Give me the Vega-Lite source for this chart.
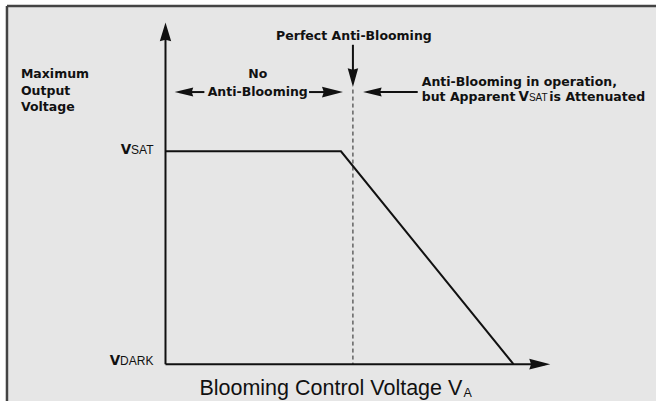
{
  "$schema": "https://vega.github.io/schema/vega-lite/v6.json",
  "width": 658,
  "height": 403,
  "autosize": {"type": "fit", "contains": "padding"},
  "padding": 0,
  "background": "white",
  "config": {"view": {"stroke": null}},
  "datasets": {
    "panel": [{"x": -4.077, "x2": 12.6154, "y": -0.1729, "y2": 1.6822}],
    "frame": [
      {"x": -4.077, "x2": -4.077, "y": -0.1729, "y2": 1.6822},
      {"x": -4.077, "x2": 12.6154, "y": 1.6822, "y2": 1.6822}
    ],
    "shafts": [
      {"name": "y-axis", "x": 0, "x2": 0, "y": 0, "y2": 1.549},
      {"name": "x-axis", "x": 0, "x2": 9.756, "y": 0, "y2": 0},
      {"name": "perfect", "x": 4.8205, "x2": 4.8205, "y": 1.5, "y2": 1.3575},
      {"name": "no-left", "x": 0.346, "x2": 1.0, "y": 1.278, "y2": 1.278},
      {"name": "no-right", "x": 3.692, "x2": 4.423, "y": 1.278, "y2": 1.278},
      {"name": "op-left", "x": 5.192, "x2": 6.487, "y": 1.278, "y2": 1.278}
    ],
    "heads": [
      {"dir": "up", "x": 0, "y": 1.5607},
      {"dir": "right", "x": 9.6256, "y": 0},
      {"dir": "down", "x": 4.8205, "y": 1.3458},
      {"dir": "left", "x": 0.4744, "y": 1.278},
      {"dir": "right", "x": 4.2949, "y": 1.278},
      {"dir": "left", "x": 5.3205, "y": 1.278}
    ],
    "curve": [
      {"x": 0, "y": 1, "o": 1},
      {"x": 4.513, "y": 1, "o": 2},
      {"x": 8.949, "y": 0, "o": 3}
    ],
    "dashed": [{"x": 4.8205, "y": 1.2897, "y2": 0}],
    "boldLeft": [
      {"t": "Maximum", "x": -3.718, "y": 1.3444},
      {"t": "Output", "x": -3.718, "y": 1.2631},
      {"t": "Voltage", "x": -3.718, "y": 1.1869},
      {"t": "Anti-Blooming in operation,", "x": 6.59, "y": 1.3051},
      {"t": "but Apparent", "x": 6.59, "y": 1.235},
      {"t": "is Attenuated", "x": 9.872, "y": 1.235}
    ],
    "boldCenter": [
      {"t": "No", "x": 2.372, "y": 1.3458},
      {"t": "Anti-Blooming", "x": 2.372, "y": 1.2593},
      {"t": "Perfect Anti-Blooming", "x": 4.846, "y": 1.5234}
    ],
    "vLetters": [
      {"t": "V", "x": 9.346, "y": 1.235},
      {"t": "V", "x": -0.885, "y": 0.986},
      {"t": "V", "x": -1.167, "y": -0.0033}
    ],
    "subs": [
      {"t": "SAT", "x": -0.885, "y": 0.986},
      {"t": "DARK", "x": -1.167, "y": -0.0033}
    ],
    "inlineSub": [{"t": "SAT", "x": 9.346, "y": 1.235}],
    "title": [{"t": "Blooming Control Voltage V", "x": 0.872, "y": -0.1449}],
    "titleSub": [{"t": "A", "x": 7.667, "y": -0.1519}]
  },
  "encoding": {
    "x": {"field": "x", "type": "quantitative", "scale": {"domain": [-4.2564, 12.6154], "nice": false, "zero": false}, "axis": null},
    "y": {"field": "y", "type": "quantitative", "scale": {"domain": [-0.1729, 1.7103], "nice": false, "zero": false}, "axis": null}
  },
  "layer": [
    {
      "data": {"name": "panel"},
      "mark": {"type": "rect", "fill": "#e6e6e6"},
      "encoding": {"x2": {"field": "x2"}, "y2": {"field": "y2"}}
    },
    {
      "data": {"name": "frame"},
      "mark": {"type": "rule", "stroke": "#444", "strokeWidth": 2.5},
      "encoding": {"x2": {"field": "x2"}, "y2": {"field": "y2"}}
    },
    {
      "data": {"name": "dashed"},
      "mark": {"type": "rule", "stroke": "#222", "strokeWidth": 1, "strokeDash": [4, 3]},
      "encoding": {"y2": {"field": "y2"}}
    },
    {
      "data": {"name": "shafts"},
      "mark": {"type": "rule", "stroke": "#111", "strokeWidth": 2},
      "encoding": {"x2": {"field": "x2"}, "y2": {"field": "y2"}}
    },
    {
      "data": {"name": "curve"},
      "mark": {"type": "line", "stroke": "#111", "strokeWidth": 2},
      "encoding": {"order": {"field": "o", "type": "quantitative"}}
    },
    {
      "data": {"name": "heads"},
      "mark": {"type": "point", "filled": true, "color": "#111", "opacity": 1, "size": 900, "strokeWidth": 0},
      "encoding": {
        "shape": {
          "field": "dir",
          "type": "nominal",
          "legend": null,
          "scale": {
            "domain": ["up", "down", "left", "right"],
            "range": [
              "M0,-0.62L0.38,0.62L0,0.52L-0.38,0.62Z",
              "M0,0.62L0.35,-0.62L0,-0.52L-0.35,-0.62Z",
              "M-0.62,0L0.62,0.3L0.52,0L0.62,-0.3Z",
              "M0.7,0L-0.7,0.36L-0.58,0L-0.7,-0.36Z"
            ]
          }
        }
      }
    },
    {
      "data": {"name": "boldLeft"},
      "mark": {"type": "text", "font": "DejaVu Sans", "fontWeight": "bold", "fontSize": 12.5, "align": "left", "baseline": "alphabetic", "color": "#111"},
      "encoding": {"text": {"field": "t"}}
    },
    {
      "data": {"name": "boldCenter"},
      "mark": {"type": "text", "font": "DejaVu Sans", "fontWeight": "bold", "fontSize": 12.5, "align": "center", "baseline": "alphabetic", "color": "#111"},
      "encoding": {"text": {"field": "t"}}
    },
    {
      "data": {"name": "vLetters"},
      "mark": {"type": "text", "font": "DejaVu Sans", "fontWeight": "bold", "fontSize": 13.5, "align": "right", "baseline": "alphabetic", "color": "#111"},
      "encoding": {"text": {"field": "t"}}
    },
    {
      "data": {"name": "subs"},
      "mark": {"type": "text", "font": "Liberation Sans", "fontSize": 12, "align": "left", "baseline": "alphabetic", "color": "#111"},
      "encoding": {"text": {"field": "t"}}
    },
    {
      "data": {"name": "inlineSub"},
      "mark": {"type": "text", "font": "Liberation Sans", "fontSize": 10, "align": "left", "baseline": "alphabetic", "color": "#111"},
      "encoding": {"text": {"field": "t"}}
    },
    {
      "data": {"name": "title"},
      "mark": {"type": "text", "font": "Liberation Sans", "fontSize": 21.5, "align": "left", "baseline": "alphabetic", "color": "#111"},
      "encoding": {"text": {"field": "t"}}
    },
    {
      "data": {"name": "titleSub"},
      "mark": {"type": "text", "font": "Liberation Sans", "fontSize": 12.5, "align": "left", "baseline": "alphabetic", "color": "#111"},
      "encoding": {"text": {"field": "t"}}
    }
  ]
}
